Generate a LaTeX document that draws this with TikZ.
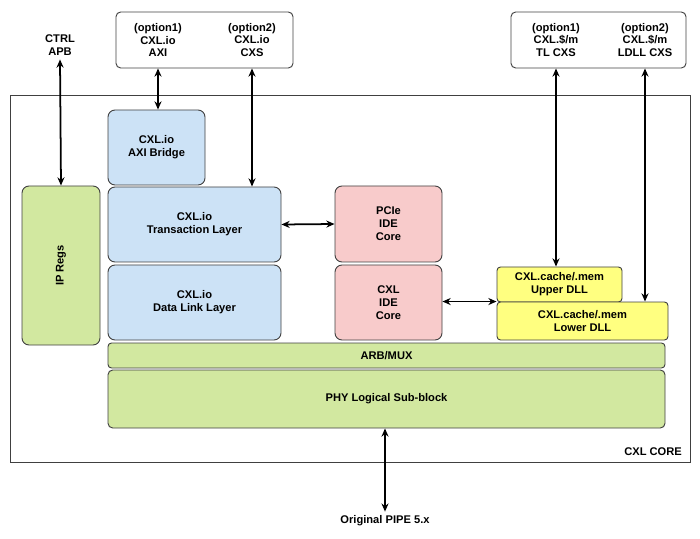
\documentclass[tikz,border=0pt]{standalone}
\usepackage{fontspec}
\setmainfont{Liberation Sans}
\usetikzlibrary{arrows.meta,positioning}
\definecolor{ioblue}{HTML}{CCE2F6}
\definecolor{idepink}{HTML}{F8CBCB}
\definecolor{dllyel}{HTML}{FFFF80}
\definecolor{lgreen}{HTML}{D2E8A0}

\begin{document}
\begin{tikzpicture}[
    x=0.03cm, y=-0.03cm,
    font=\bfseries\fontsize{9.5}{11}\selectfont,
    blk/.style={draw=black!75, thick, rounded corners=6pt, align=center, inner sep=1pt},
    io/.style={blk, fill=ioblue},
    ide/.style={blk, fill=idepink},
    dll/.style={blk, fill=dllyel, rounded corners=3pt},
    lg/.style={blk, fill=lgreen},
    arrow/.style={{Stealth[length=7pt,width=6pt]}-{Stealth[length=7pt,width=6pt]}, line width=1.5pt}
  ]
  \useasboundingbox (0,0) rectangle (700,539);

  % Outer core box
  \node[draw=black!75, thick, minimum width=680*0.03cm, minimum height=367*0.03cm] (core) at (350,278.5) {};
  \node[anchor=south east] (corelbl) at (686,460) {CXL CORE};

  % External interfaces
  \node[blk, rounded corners=4pt, minimum width=177*0.03cm, minimum height=56*0.03cm] (ioif) at (204.5,40) {};
  \node[align=center] (axi) at (158,40) {(option1)\\CXL.io\\AXI};
  \node[align=center] (cxs) at (252,40) {(option2)\\CXL.io\\CXS};
  \node[blk, rounded corners=4pt, minimum width=175*0.03cm, minimum height=56*0.03cm] (cmif) at (598.5,40) {};
  \node[align=center] (tl) at (556,40) {(option1)\\CXL.\$/m\\TL CXS};
  \node[align=center] (ldll) at (645,40) {(option2)\\CXL.\$/m\\LDLL CXS};
  \node[align=center] (apb) at (60,45) {CTRL\\APB};
  \node (pipe) at (385,521) {Original PIPE 5.x};

  % Blocks
  \node[lg, minimum width=78*0.03cm, minimum height=159*0.03cm] (regs) at (61,265.5) {};
  \node[rotate=90] at (regs) {IP Regs};
  \node[io, minimum width=97*0.03cm, minimum height=75*0.03cm] (bridge) at (156.5,147.5) {CXL.io\\AXI Bridge};
  \node[io, minimum width=173*0.03cm, minimum height=75*0.03cm] (txn) at (194.5,224.5) {CXL.io\\Transaction Layer};
  \node[io, minimum width=173*0.03cm, minimum height=75*0.03cm] (dl) at (194.5,302.5) {CXL.io\\Data Link Layer};
  \node[ide, minimum width=107*0.03cm, minimum height=76*0.03cm] (pide) at (388.5,224) {PCIe\\IDE\\Core};
  \node[ide, minimum width=107*0.03cm, minimum height=75*0.03cm] (cide) at (388.5,302.5) {CXL\\IDE\\Core};
  \node[dll, minimum width=125*0.03cm, minimum height=35*0.03cm] (udll) at (559.5,284.5) {CXL.cache/.mem\\Upper DLL};
  \node[dll, minimum width=171*0.03cm, minimum height=38*0.03cm] (lodll) at (582.5,321) {CXL.cache/.mem\\Lower DLL};
  \node[lg, rounded corners=3pt, minimum width=557*0.03cm, minimum height=25*0.03cm] (arb) at (386.5,355.5) {ARB/MUX};
  \node[lg, rounded corners=4pt, minimum width=557*0.03cm, minimum height=58*0.03cm] (phy) at (386.5,399) {PHY Logical Sub-block};

  % Connectors
  \draw[arrow] (apb.south) -- (regs.north);
  \draw[arrow] (axi.south |- ioif.south) -- (bridge.north -| axi.south);
  \draw[arrow] (cxs.south |- ioif.south) -- (txn.north -| cxs.south);
  \draw[arrow] (txn.east) -- (pide.west);
  \draw[arrow] (cide.east |- lodll.north) -- (lodll.west |- lodll.north);
  \draw[arrow] (tl.south |- cmif.south) -- (udll.north -| tl.south);
  \draw[arrow] (ldll.south |- cmif.south) -- (lodll.north -| ldll.south);
  \draw[arrow] (phy.south -| pipe.north) -- (pipe.north);
\end{tikzpicture}
\end{document}
